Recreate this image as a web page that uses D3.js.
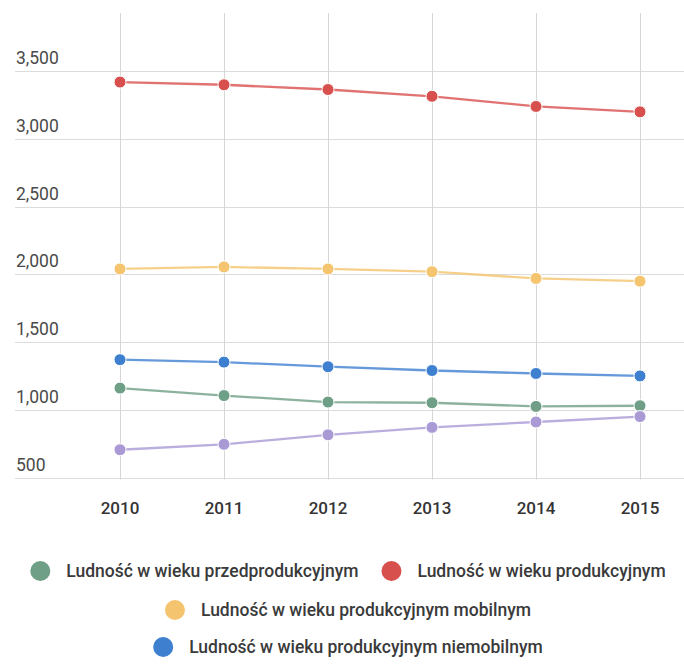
<!DOCTYPE html>
<html><head><meta charset="utf-8">
<script src="https://cdn.jsdelivr.net/npm/d3@7"></script>
<style>html,body{margin:0;padding:0;background:#fff;}svg{display:block;}</style>
</head><body>
<script>
const years = [2010, 2011, 2012, 2013, 2014, 2015];
const przedprodukcyjny = [1160, 1105, 1057, 1052, 1025, 1030];
const produkcyjny = [3420, 3400, 3365, 3315, 3240, 3200];
const produkcyjnyMobilny = [2040, 2055, 2040, 2020, 1970, 1950];
const produkcyjnyNiemobilny = [1370, 1352, 1318, 1290, 1268, 1250];
const poprodukcyjny = [705, 745, 815, 870, 910, 950];
const yTicks = [500, 1000, 1500, 2000, 2500, 3000, 3500];
const seriesNames = ["Ludność w wieku przedprodukcyjnym", "Ludność w wieku produkcyjnym",
  "Ludność w wieku produkcyjnym mobilnym", "Ludność w wieku produkcyjnym niemobilnym", "Ludność w wieku poprodukcyjnym"];
const seriesColors = ["#6f9f86", "#d8504d", "#f4c46e", "#3f7fd0", "#a99ad6"];

const series = [przedprodukcyjny, produkcyjny, produkcyjnyMobilny, produkcyjnyNiemobilny, poprodukcyjny]
  .map((vals, i) => ({name: seriesNames[i], color: seriesColors[i], values: vals}));

const W = 684, H = 665;
const svg = d3.select("body").append("svg").attr("width", W).attr("height", H);
const font = "Roboto, 'Noto Sans', sans-serif";

const x = d3.scalePoint().domain(years).range([120, 640]);
const y = d3.scaleLinear().domain([500, 3930]).range([477.5, 13]);

// horizontal gridlines
svg.append("g").selectAll("line").data(yTicks).join("line")
  .attr("x1", 15).attr("x2", W)
  .attr("y1", d => Math.round(y(d)) + 0.5).attr("y2", d => Math.round(y(d)) + 0.5)
  .attr("stroke", "#dcdcdc").attr("stroke-width", 1);
// vertical gridlines
svg.append("g").selectAll("line").data(years).join("line")
  .attr("x1", d => Math.round(x(d)) + 0.5).attr("x2", d => Math.round(x(d)) + 0.5)
  .attr("y1", y(3930)).attr("y2", y(500) + 2)
  .attr("stroke", "#d6d6d6").attr("stroke-width", 1);

// y labels
svg.append("g").selectAll("text").data(yTicks).join("text")
  .attr("x", 16).attr("y", d => y(d) - 7)
  .attr("font-family", font).attr("font-size", 17.5).attr("fill", "#4a4a4a")
  .text(d => d3.format(",")(d));
// x labels
svg.append("g").selectAll("text").data(years).join("text")
  .attr("x", d => x(d)).attr("y", 514).attr("text-anchor", "middle")
  .attr("font-family", font).attr("font-size", 17).attr("font-weight", 500).attr("fill", "#333")
  .text(d => d);

// series
const line = d3.line().x((d, i) => x(years[i])).y(d => y(d));
const sg = svg.append("g").selectAll("g").data(series).join("g");
sg.append("path").attr("d", d => line(d.values)).attr("fill", "none")
  .attr("stroke", d => d.color).attr("stroke-width", 2.3).attr("stroke-opacity", 0.8);
sg.selectAll("circle").data(d => d.values.map(v => ({v, c: d.color}))).join("circle")
  .attr("cx", (d, i) => x(years[i])).attr("cy", d => y(d.v)).attr("r", 6)
  .attr("fill", d => d.c).attr("stroke", "#fff").attr("stroke-width", 1);

// legend (4 entries)
const rows = [[0, 1], [2], [3]];
const rowY = [571, 610, 647];
const lg = svg.append("g");
rows.forEach((row, ri) => {
  const g = lg.append("g");
  let cx = 0;
  row.forEach((si, k) => {
    if (k > 0) cx += 23;
    g.append("circle").attr("cx", cx + 10).attr("cy", rowY[ri]).attr("r", 10).attr("fill", series[si].color);
    const t = g.append("text").attr("x", cx + 36).attr("y", rowY[ri] + 6)
      .attr("font-family", font).attr("font-size", 17.5).attr("font-weight", 500).attr("fill", "#3a3a3a")
      .text(series[si].name);
    cx += 36 + t.node().getComputedTextLength();
  });
  g.attr("transform", `translate(${348 - cx / 2},0)`);
});
</script>
</body></html>
